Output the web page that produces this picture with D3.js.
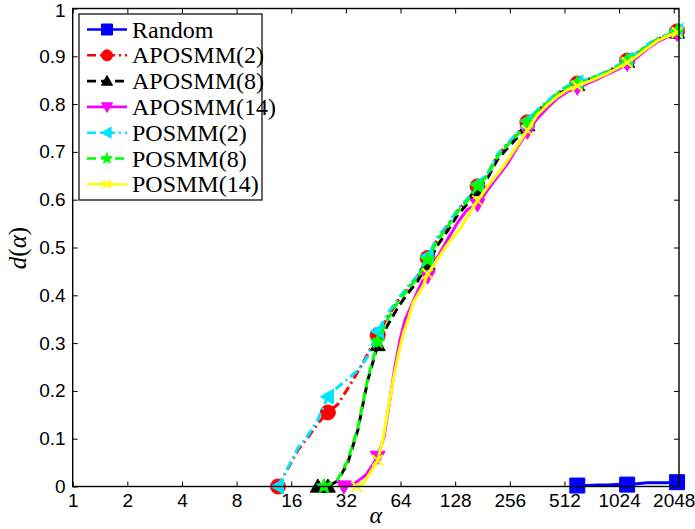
<!DOCTYPE html>
<html>
<head>
<meta charset="utf-8">
<script src="https://cdn.jsdelivr.net/npm/d3@7"></script>
<style>
  body { margin: 0; background: #fff; }
  svg { display: block; }
</style>
</head>
<body>
<svg id="chart" width="695" height="529"></svg>
<script>
// Tick values for both axes
const xTicks = [1, 2, 4, 8, 16, 32, 64, 128, 256, 512, 1024, 2048];
const yTicks = [0, 0.1, 0.2, 0.3, 0.4, 0.5, 0.6, 0.7, 0.8, 0.9, 1];

// Alpha values where markers are placed (plus each curve's first point)
const markAlpha = [13.52, 25.46, 47.93, 90.26, 170.0, 320.0, 602.6, 1134.6, 2136.6];

// Data profiles: [alpha, d(alpha)]
const randomData = [[602.6,0.002],[684.1,0.002],[776.0,0.003],[881.0,0.003],[999.5,0.004],[1134.6,0.004],[1288,0.006],[1461,0.008],[1659,0.008],[1882,0.008],[2136.6,0.009]];

const aposmm2 = [[13.52,0],[15.35,0.038],[17.41,0.076],[19.77,0.103],[22.42,0.132],[25.46,0.155],[28.90,0.172],[32.79,0.205],[37.22,0.240],[42.22,0.277],[47.93,0.317],[54.42,0.355],[61.73,0.388],[70.09,0.414],[79.51,0.440],[90.26,0.478],[102.5,0.518],[116.3,0.545],[132.0,0.577],[149.7,0.600],[170.0,0.628],[192.9,0.652],[218.9,0.692],[248.5,0.716],[281.9,0.738],[320.0,0.762],[363.3,0.786],[412.2,0.804],[467.9,0.822],[530.8,0.836],[602.6,0.843],[684.1,0.851],[776.0,0.859],[881.0,0.868],[999.5,0.879],[1134.6,0.891],[1288,0.906],[1461,0.922],[1659,0.936],[1882,0.944],[2136.6,0.952]];

const aposmm8 = [[22.42,0],[25.46,0],[28.90,0.012],[32.79,0.05],[37.22,0.118],[42.22,0.222],[47.93,0.296],[54.42,0.338],[61.73,0.374],[70.09,0.404],[79.51,0.430],[90.26,0.465],[102.5,0.505],[116.3,0.535],[132.0,0.568],[149.7,0.592],[170.0,0.620],[192.9,0.645],[218.9,0.684],[248.5,0.708],[281.9,0.730],[320.0,0.756],[363.3,0.780],[412.2,0.800],[467.9,0.818],[530.8,0.832],[602.6,0.840],[684.1,0.848],[776.0,0.856],[881.0,0.865],[999.5,0.876],[1134.6,0.889],[1288,0.903],[1461,0.919],[1659,0.933],[1882,0.942],[2136.6,0.950]];

const aposmm14 = [[31.21,0],[35.88,0.007],[41.27,0.024],[47.93,0.062],[51.98,0.105],[55.95,0.181],[59.63,0.251],[63.51,0.306],[67.69,0.348],[73.67,0.380],[78.79,0.405],[85.04,0.432],[90.26,0.439],[102.5,0.480],[116.3,0.517],[132.0,0.552],[149.7,0.580],[170.0,0.590],[192.9,0.620],[218.9,0.648],[248.5,0.675],[281.9,0.710],[320.0,0.742],[363.3,0.770],[412.2,0.792],[467.9,0.812],[530.8,0.826],[602.6,0.834],[684.1,0.843],[776.0,0.852],[881.0,0.862],[999.5,0.872],[1134.6,0.884],[1288,0.898],[1461,0.915],[1659,0.930],[1882,0.940],[2136.6,0.947]];

const posmm2 = [[13.52,0],[15.35,0.04],[17.41,0.08],[19.77,0.107],[22.42,0.14],[25.46,0.188],[28.90,0.208],[32.79,0.225],[37.22,0.243],[42.22,0.272],[47.93,0.325],[54.42,0.362],[61.73,0.392],[70.09,0.418],[79.51,0.442],[90.26,0.482],[102.5,0.522],[116.3,0.548],[132.0,0.580],[149.7,0.602],[170.0,0.632],[192.9,0.655],[218.9,0.695],[248.5,0.718],[281.9,0.740],[320.0,0.765],[363.3,0.788],[412.2,0.806],[467.9,0.824],[530.8,0.838],[602.6,0.845],[684.1,0.852],[776.0,0.860],[881.0,0.869],[999.5,0.880],[1134.6,0.893],[1288,0.908],[1461,0.924],[1659,0.937],[1882,0.945],[2136.6,0.953]];

const posmm8 = [[24.25,0],[28.90,0.015],[32.79,0.055],[37.22,0.122],[42.22,0.226],[47.93,0.303],[54.42,0.350],[61.73,0.385],[70.09,0.412],[79.51,0.437],[90.26,0.474],[102.5,0.516],[116.3,0.543],[132.0,0.575],[149.7,0.598],[170.0,0.628],[192.9,0.651],[218.9,0.690],[248.5,0.714],[281.9,0.736],[320.0,0.761],[363.3,0.785],[412.2,0.803],[467.9,0.821],[530.8,0.835],[602.6,0.843],[684.1,0.850],[776.0,0.858],[881.0,0.867],[999.5,0.878],[1134.6,0.891],[1288,0.906],[1461,0.922],[1659,0.935],[1882,0.944],[2136.6,0.952]];

const posmm14 = [[36.68,0],[39.40,0.003],[43.41,0.028],[47.93,0.055],[51.27,0.100],[54.95,0.165],[58.49,0.225],[62.17,0.275],[66.26,0.320],[70.57,0.350],[75.17,0.385],[85.33,0.420],[90.26,0.445],[96.86,0.462],[114.8,0.504],[135.9,0.539],[154.3,0.573],[170.0,0.598],[198.9,0.634],[235.4,0.669],[279.0,0.711],[320.0,0.745],[363.3,0.778],[412.2,0.798],[467.9,0.816],[530.8,0.830],[602.6,0.838],[684.1,0.846],[776.0,0.855],[881.0,0.864],[999.5,0.875],[1134.6,0.887],[1288,0.901],[1461,0.917],[1659,0.932],[1882,0.942],[2136.6,0.950]];

const seriesNames = ["Random", "APOSMM(2)", "APOSMM(8)", "APOSMM(14)", "POSMM(2)", "POSMM(8)", "POSMM(14)"];
const seriesData = [randomData, aposmm2, aposmm8, aposmm14, posmm2, posmm8, posmm14];
const seriesColors = ["#0000ff", "#ff0000", "#000000", "#ff00ff", "#00e5ff", "#00ff00", "#ffff00"];
const seriesDash = [null, "9,4,2,4", "9,5", null, "9,4,2,4", "9,5", null];
const seriesMarker = ["square", "circle", "triUp", "triDown", "triLeft", "star", "cross"];

// Layout
const plot = { left: 72.7, right: 679, top: 8.5, bottom: 486.5 };

const svg = d3.select("#chart");

const x = d3.scaleLog().base(2).domain([1, 2190]).range([plot.left, plot.right]);
const y = d3.scaleLinear().domain([0, 1]).range([plot.bottom, plot.top]);

const tickFont = "'Liberation Sans', Arial, sans-serif";
const serifFont = "'Liberation Serif', 'Times New Roman', serif";

// Marker shapes
function markerPath(type, s) {
  const p = d3.path();
  const h = s / 2;
  switch (type) {
    case "square":
      p.rect(-h, -h, s, s); break;
    case "circle":
      p.arc(0, 0, h, 0, 2 * Math.PI); break;
    case "triUp":
      p.moveTo(0, -h); p.lineTo(h, h * 0.75); p.lineTo(-h, h * 0.75); p.closePath(); break;
    case "triDown":
      p.moveTo(0, h); p.lineTo(h, -h * 0.75); p.lineTo(-h, -h * 0.75); p.closePath(); break;
    case "triLeft":
      p.moveTo(-h, 0); p.lineTo(h * 0.75, -h); p.lineTo(h * 0.75, h); p.closePath(); break;
    case "star": {
      const R = h * 1.05, r = R * 0.42;
      for (let i = 0; i < 10; i++) {
        const a = -Math.PI / 2 + i * Math.PI / 5;
        const rr = i % 2 === 0 ? R : r;
        const px = rr * Math.cos(a), py = rr * Math.sin(a);
        if (i === 0) p.moveTo(px, py); else p.lineTo(px, py);
      }
      p.closePath(); break;
    }
    case "cross":
      p.moveTo(-h * 0.7, -h * 0.7); p.lineTo(h * 0.7, h * 0.7);
      p.moveTo(h * 0.7, -h * 0.7); p.lineTo(-h * 0.7, h * 0.7); break;
  }
  return p.toString();
}

function drawMarker(g, type, color, s, cx, cy) {
  const el = g.append("path")
    .attr("d", markerPath(type, s))
    .attr("transform", `translate(${cx},${cy})`);
  if (type === "cross") {
    el.attr("fill", "none").attr("stroke", color).attr("stroke-width", 2);
  } else {
    el.attr("fill", color).attr("stroke", color).attr("stroke-width", 1);
  }
}

// Axes (ticks pointing inward on all four sides)
const fmtY = d => (d === 0 ? "0" : d === 1 ? "1" : d3.format(".1f")(d));

const gx = svg.append("g").attr("transform", `translate(0,${plot.bottom})`)
  .call(d3.axisBottom(x).tickValues(xTicks).tickFormat(d3.format("d"))
    .tickSizeInner(-5).tickSizeOuter(0).tickPadding(7));
const gxt = svg.append("g").attr("transform", `translate(0,${plot.top})`)
  .call(d3.axisTop(x).tickValues(xTicks).tickFormat("").tickSizeInner(-5).tickSizeOuter(0));
const gy = svg.append("g").attr("transform", `translate(${plot.left},0)`)
  .call(d3.axisLeft(y).tickValues(yTicks).tickFormat(fmtY)
    .tickSizeInner(-5).tickSizeOuter(0).tickPadding(7));
const gyr = svg.append("g").attr("transform", `translate(${plot.right},0)`)
  .call(d3.axisRight(y).tickValues(yTicks).tickFormat("").tickSizeInner(-5).tickSizeOuter(0));

[gx, gxt, gy, gyr].forEach(g => {
  g.select(".domain").remove();
  g.selectAll(".tick line").attr("stroke", "#000").attr("stroke-width", 1);
  g.selectAll(".tick text").attr("fill", "#000")
    .style("font-family", tickFont).style("font-size", "19px");
});
// keep the top label "1" clear of the page edge
gy.selectAll(".tick text").filter(d => d === 1).attr("dy", "0.42em");

// Data curves
const line = d3.line().x(d => x(d[0])).y(d => y(d[1]));
const curves = svg.append("g");
seriesData.forEach((data, i) => {
  const g = curves.append("g");
  const path = g.append("path")
    .datum(data)
    .attr("d", line)
    .attr("fill", "none")
    .attr("stroke", seriesColors[i])
    .attr("stroke-width", 3)
    .attr("stroke-linejoin", "round");
  if (seriesDash[i]) path.attr("stroke-dasharray", seriesDash[i]);
  data.forEach((d, j) => {
    if (j === 0 || markAlpha.includes(d[0])) {
      drawMarker(g, seriesMarker[i], seriesColors[i], 15, x(d[0]), y(d[1]));
    }
  });
});

// Plot frame
svg.append("rect")
  .attr("x", plot.left).attr("y", plot.top)
  .attr("width", plot.right - plot.left).attr("height", plot.bottom - plot.top)
  .attr("fill", "none").attr("stroke", "#000").attr("stroke-width", 1.4);

// Axis titles
svg.append("text")
  .attr("x", (plot.left + plot.right) / 2).attr("y", 523)
  .attr("text-anchor", "middle")
  .style("font-family", serifFont).style("font-style", "italic").style("font-size", "24px")
  .text("α");

svg.append("text")
  .attr("transform", "translate(26,248) rotate(-90)")
  .attr("text-anchor", "middle")
  .style("font-family", serifFont).style("font-size", "25px")
  .html('<tspan font-style="italic">d</tspan>(<tspan font-style="italic">α</tspan>)');

// Legend
const legend = svg.append("g");
const lg = { x: 79, y: 14, w: 183, h: 186, row0: 29.5, step: 25.8 };
legend.append("rect")
  .attr("x", lg.x).attr("y", lg.y).attr("width", lg.w).attr("height", lg.h)
  .attr("fill", "#fff").attr("stroke", "#000").attr("stroke-width", 1.2);

seriesNames.forEach((name, i) => {
  const cy = lg.row0 + i * lg.step;
  const ln = legend.append("line")
    .attr("x1", 87).attr("x2", 127).attr("y1", cy).attr("y2", cy)
    .attr("stroke", seriesColors[i]).attr("stroke-width", 2.6);
  if (seriesDash[i]) ln.attr("stroke-dasharray", seriesDash[i]);
  drawMarker(legend, seriesMarker[i], seriesColors[i], 11, 107, cy);
  legend.append("text")
    .attr("x", 132).attr("y", cy + 8)
    .style("font-family", serifFont).style("font-size", "24px")
    .attr("fill", "#000")
    .text(name);
});
</script>
</body>
</html>
